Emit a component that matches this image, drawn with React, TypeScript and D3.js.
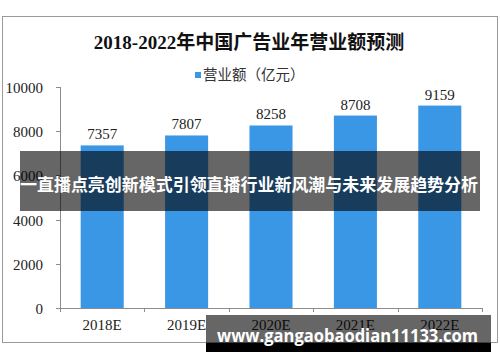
import { scaleBand, scaleLinear } from 'd3'

const years = ['2018E', '2019E', '2020E', '2021E', '2022E']
const revenue = [7357, 7807, 8258, 8708, 9159]
const yTicks = [0, 2000, 4000, 6000, 8000, 10000]

const titleText = '2018-2022年中国广告业年营业额预测'
const legendText = '营业额（亿元）'
const bannerText = '一直播点亮创新模式引领直播行业新风潮与未来发展趋势分析'
const urlText = 'www.gangaobaodian11133.com'

const width = 500
const height = 362

const plot = {
  left: 60,
  right: 482,
  top: 87,
  bottom: 308,
}

const barColor = '#3a97e6'
const axisColor = '#8c8c8c'
const numberFont = '"Liberation Serif", "DejaVu Serif", serif'
const cjkFont = '"Noto Sans CJK SC", "Noto Sans", sans-serif'

function App() {
  const xScale = scaleBand<string>()
    .domain(years)
    .range([plot.left, plot.right])
    .paddingInner(0.49)
    .paddingOuter(0.245)

  const yScale = scaleLinear().domain([0, 10000]).range([plot.bottom, plot.top])

  const step = xScale.step()
  const boundaries = years.map((_, i) => plot.left + i * step).concat(plot.right)

  return (
    <svg
      width={width}
      height={height}
      viewBox={`0 0 ${width} ${height}`}
      style={{ position: 'absolute', left: 0, top: 0, background: '#fff' }}
    >
      <rect x={0} y={0} width={width} height={height} fill="#fff" />

      {/* picture frame */}
      <rect x={2.5} y={16.5} width={495} height={326} fill="#fff" stroke="#9a9a9a" strokeWidth={1} />

      <text
        x={249}
        y={49}
        textAnchor="middle"
        fontFamily={`"Liberation Serif", ${cjkFont}`}
        fontWeight="bold"
        fontSize={19}
        fill="#111"
      >
        {titleText}
      </text>

      {/* legend */}
      <rect x={195} y={72} width={6} height={6} fill={barColor} />
      <text x={203} y={80} fontFamily={cjkFont} fontSize={14.5} fill="#333">
        {legendText}
      </text>

      {/* y axis */}
      <line x1={plot.left + 0.5} y1={yScale(10000)} x2={plot.left + 0.5} y2={plot.bottom} stroke={axisColor} />
      {yTicks.map((tick) => {
        const y = Math.round(yScale(tick)) + 0.5

        return (
          <g key={tick}>
            <line x1={56} y1={y} x2={plot.left} y2={y} stroke={axisColor} />
            <text
              x={43}
              y={y}
              dy="0.35em"
              textAnchor="end"
              fontFamily={numberFont}
              fontSize={15}
              fill="#222"
            >
              {tick}
            </text>
          </g>
        )
      })}

      {/* bars */}
      {years.map((year, i) => {
        const x = xScale(year) ?? 0
        const y = yScale(revenue[i])

        return (
          <rect
            key={year}
            x={x}
            y={y}
            width={xScale.bandwidth()}
            height={plot.bottom - y}
            fill={barColor}
          />
        )
      })}

      {/* x axis */}
      <line x1={56} y1={plot.bottom + 0.5} x2={plot.right} y2={plot.bottom + 0.5} stroke={axisColor} />
      {boundaries.map((bx, i) => (
        <line
          key={`tick-${i}`}
          x1={Math.round(bx) + 0.5}
          y1={plot.bottom}
          x2={Math.round(bx) + 0.5}
          y2={plot.bottom + 4}
          stroke={axisColor}
        />
      ))}

      {years.map((year) => {
        const x = (xScale(year) ?? 0) + xScale.bandwidth() / 2

        return (
          <text
            key={`${year}-label`}
            x={x}
            y={330}
            textAnchor="middle"
            fontFamily={numberFont}
            fontSize={15}
            fill="#222"
          >
            {year}
          </text>
        )
      })}

      {years.map((year, i) => {
        const x = (xScale(year) ?? 0) + xScale.bandwidth() / 2
        const y = yScale(revenue[i])

        return (
          <text
            key={`${year}-value`}
            x={x}
            y={y - 6}
            textAnchor="middle"
            fontFamily={numberFont}
            fontSize={15}
            fill="#222"
          >
            {revenue[i]}
          </text>
        )
      })}

      {/* overlay banner */}
      <rect x={20} y={151} width={460} height={60} fill="#000" opacity={0.6} />
      <text
        x={249}
        y={191}
        textAnchor="middle"
        fontFamily={cjkFont}
        fontWeight="bold"
        fontSize={17}
        fill="#fff"
        textLength={458}
        lengthAdjust="spacingAndGlyphs"
      >
        {bannerText}
      </text>

      {/* url badge */}
      <rect x={206} y={315} width={285} height={28} fill="#000" opacity={0.6} />
      <rect x={206} y={343} width={285} height={9} fill="#000" />
      <text
        x={217}
        y={342}
        fontFamily='"Open Sans", "DejaVu Sans", sans-serif'
        fontWeight="bold"
        fontSize={18}
        fill="#fff"
        textLength={261}
        lengthAdjust="spacingAndGlyphs"
      >
        {urlText}
      </text>
    </svg>
  )
}

export default App
